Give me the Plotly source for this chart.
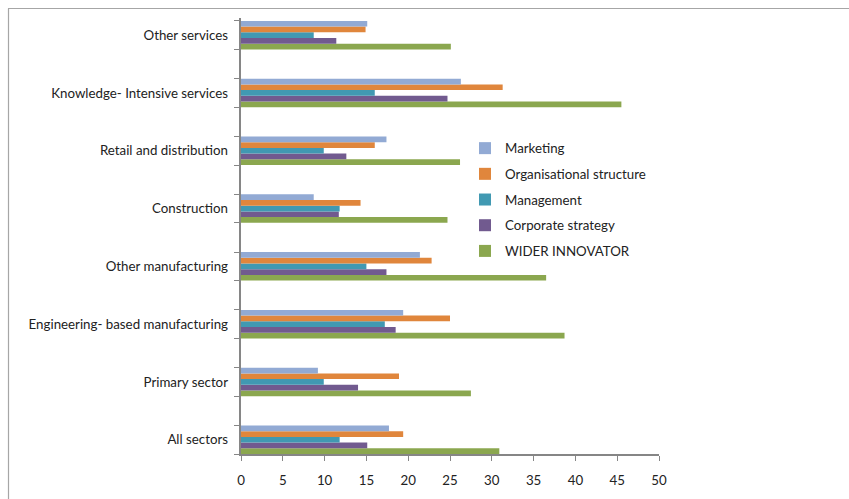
import plotly.graph_objects as go

categories = ["All sectors", "Primary sector", "Engineering- based manufacturing",
              "Other manufacturing", "Construction", "Retail and distribution",
              "Knowledge- Intensive services", "Other services"]

marketing = [17.7, 9.2, 19.4, 21.4, 8.7, 17.4, 26.3, 15.1]
organisational = [19.4, 18.9, 25.0, 22.8, 14.3, 16.0, 31.3, 14.9]
management = [11.8, 9.9, 17.2, 15.0, 11.8, 9.9, 16.0, 8.7]
corporate = [15.1, 14.0, 18.5, 17.4, 11.7, 12.6, 24.7, 11.4]
wider = [30.9, 27.5, 38.7, 36.5, 24.7, 26.2, 45.5, 25.1]

series = [
    ("WIDER INNOVATOR", wider, "#8BA74F", 5),
    ("Corporate strategy", corporate, "#715A8F", 4),
    ("Management", management, "#4199B2", 3),
    ("Organisational structure", organisational, "#E0863C", 2),
    ("Marketing", marketing, "#92AAD4", 1),
]

x_ticks = [0, 5, 10, 15, 20, 25, 30, 35, 40, 45, 50]

fig = go.Figure()
for name, vals, color, rank in series:
    fig.add_trace(go.Bar(
        y=categories, x=vals, name=name, orientation="h",
        marker=dict(color=color, line=dict(width=0)),
        legendgroup=name, legendrank=rank,
    ))

font_family = "Lato, Liberation Sans, sans-serif"
L, R, T, B = 241, 659, 18, 454
W, H = 849, 499
FS = 13.3

def px(xp):
    return (xp - L) / (R - L)

def py(yp):
    return (B - yp) / (B - T)

# category band geometry (in category index units)
n = len(categories)
band_px = 57.8
group_px = 28.5
y_lo = -(group_px / 2) / band_px
y_hi = (n - 1) + ((B - T) - (n - 1) * band_px - group_px / 2) / band_px
half = (group_px / 2) / band_px
edge_ticks = []
for i in range(n):
    edge_ticks += [i - half, i + half]

fig.update_layout(
    width=W, height=H,
    margin=dict(l=L, r=W - R, t=T, b=H - B, pad=0),
    paper_bgcolor="white", plot_bgcolor="white",
    barmode="group", bargap=1 - group_px / band_px, bargroupgap=0,
    font=dict(family=font_family, size=FS, color="#222222"),
    showlegend=True,
    legend=dict(
        x=px(465), y=py(133), xanchor="left", yanchor="top",
        traceorder="grouped", tracegroupgap=5.4,
        font=dict(size=FS, family=font_family, color="#222222"),
        bgcolor="rgba(0,0,0,0)", itemwidth=30,
    ),
    xaxis=dict(
        range=[0, 50], tickvals=x_ticks, ticktext=[str(v) for v in x_ticks],
        showgrid=False, zeroline=False, showline=True, linecolor="#868686",
        linewidth=1.5, ticks="outside", ticklen=5, tickcolor="#868686",
        ticklabelstandoff=8, tickfont=dict(size=FS), fixedrange=True,
    ),
    yaxis=dict(
        type="category", categoryorder="array", categoryarray=categories,
        range=[y_lo, y_hi],
        showgrid=False, zeroline=False, showline=False, ticks="",
        ticklabelstandoff=12, tickfont=dict(size=FS), fixedrange=True,
    ),
    yaxis2=dict(
        overlaying="y", side="left", range=[y_lo, y_hi],
        tickvals=edge_ticks, ticktext=["" for _ in edge_ticks],
        showgrid=False, zeroline=False, showline=True, linecolor="#868686",
        linewidth=1.5, ticks="outside", ticklen=5, tickcolor="#868686",
        fixedrange=True,
    ),
    shapes=[
        dict(type="line", xref="paper", yref="paper", x0=px(8), x1=px(849), y0=py(8.5), y1=py(8.5),
             line=dict(color="#A6A6A6", width=1.2)),
        dict(type="line", xref="paper", yref="paper", x0=px(8.5), x1=px(8.5), y0=py(8.5), y1=py(499),
             line=dict(color="#A6A6A6", width=1.2)),
    ],
)

# invisible trace to activate yaxis2
fig.add_trace(go.Scatter(x=[None], y=[None], yaxis="y2", showlegend=False, hoverinfo="skip"))

fig.write_html("out.html")
